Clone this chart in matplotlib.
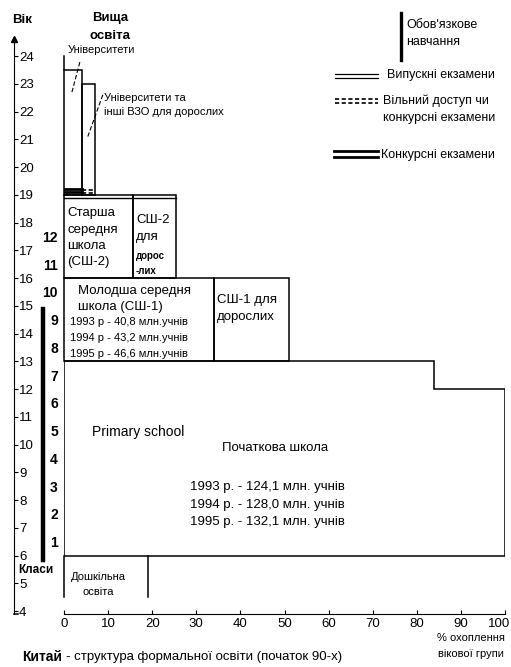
import numpy as np
import matplotlib.pyplot as plt
from matplotlib.patches import Polygon, Rectangle
from matplotlib.transforms import ScaledTranslation

plt.rcParams['font.family'] = ['Liberation Sans', 'DejaVu Sans']

# Age ticks and coverage ticks
ages = np.arange(4, 25)
coverage_ticks = np.arange(0, 101, 10)

# Blocks: (x0 %, x1 %, age0, age1)
preschool = (0, 19, 4.5, 6)
junior_sec = (0, 34, 13, 16)
junior_sec_adult = (34, 51, 13, 16)
senior_sec = (0, 15.6, 16, 19)
senior_sec_adult = (15.6, 25.4, 16, 19)
university = (0, 4.1, 19, 23.5)
university_adult = (4.1, 7.0, 19, 23)

# primary school outline: coverage drops after 84 %
primary_x = [0, 100, 100, 84, 84, 0]
primary_age = [6, 6, 12, 12, 13, 13]

grades = np.arange(1, 13)

junior_pupils = ['1993 р - 40,8 млн.учнів',
                 '1994 р - 43,2 млн.учнів',
                 '1995 р - 46,6 млн.учнів']
primary_pupils = ['1993 р. - 124,1 млн. учнів',
                  '1994 р. - 128,0 млн. учнів',
                  '1995 р. - 132,1 млн. учнів']

fig = plt.figure(figsize=(5.11, 6.67), dpi=100)
ax = fig.add_axes([64 / 511, (667 - 614) / 667, 441 / 511, 558 / 667])
ax.set_xlim(0, 100)
ax.set_ylim(3.9, 24)

lw = 1.1
kw = dict(color='black', lw=lw, clip_on=False)

# axes styling
for s in ['top', 'right']:
    ax.spines[s].set_visible(False)
ax.spines['left'].set_position(('data', -11.3))
ax.spines['left'].set_bounds(3.9, 24.5)
ax.spines['bottom'].set_bounds(0, 100)
ax.set_yticks(ages)
ax.set_xticks(coverage_ticks)
ax.tick_params(axis='y', direction='in', length=3, pad=-3.5, labelsize=9.5)
ax.tick_params(axis='x', direction='in', length=3, pad=3, labelsize=9.5)
for lbl in ax.get_yticklabels():
    lbl.set_ha('left')
last = ax.get_xticklabels()[-1]
last.set_transform(last.get_transform()
                   + ScaledTranslation(-4 / 72, 0, fig.dpi_scale_trans))
ax.plot([-11.3], [24.6], marker='^', color='black', ms=5, clip_on=False)
ax.plot([-11.3, -10.5], [3.9, 3.9], **kw)

# primary school
ax.add_patch(Polygon(list(zip(primary_x, primary_age)), closed=True,
                     fill=False, ec='black', lw=lw))

def box(b):
    x0, x1, a0, a1 = b
    ax.add_patch(Rectangle((x0, a0), x1 - x0, a1 - a0, fill=False,
                           ec='black', lw=lw, clip_on=False))

for b in [junior_sec, junior_sec_adult, senior_sec, senior_sec_adult,
          university, university_adult]:
    box(b)

# preschool: only side edges
ax.plot([preschool[0]] * 2, [preschool[2], preschool[3]], **kw)
ax.plot([preschool[1]] * 2, [preschool[2], preschool[3]], **kw)

# university left edge reaching age 24
ax.plot([0, 0], [23.5, 24], **kw)

# graduation exams on top of СШ-2
ax.plot([0, senior_sec_adult[1]], [18.87, 18.87], color='black', lw=1)
# competitive exams / free access into higher education
for a in [19.1, 19.22]:
    ax.plot([0, university[1]], [a, a], color='black', lw=2)
for a in [19.05, 19.17]:
    ax.plot([university_adult[0], university_adult[1]], [a, a],
            color='black', lw=1.2, ls=(0, (2.5, 1.5)))

# compulsory education bar
ax.plot([-4.8, -4.8], [5.85, 14.9], color='black', lw=3.2, clip_on=False)
for g in grades:
    ax.text(-1.4, g + 5.45, str(g), ha='right', va='center', fontsize=10,
            fontweight='bold', clip_on=False)
ax.text(-6.3, 5.48, 'Класи', ha='center', va='center', fontsize=8.5,
        fontweight='bold')

# labels
ax.text(-9.5, 25.3, 'Вік', ha='center', va='center', fontsize=9.5,
        fontweight='bold')
ax.text(10.4, 25.05, 'Вища\nосвіта', ha='center', va='center', fontsize=9.5,
        fontweight='bold', linespacing=1.7)
ax.text(0.9, 24.2, 'Університети', ha='left', va='center', fontsize=8)
ax.plot([3.6, 1.8], [23.78, 22.7], color='black', lw=0.8, ls=(0, (4, 2)))
ax.text(9.1, 22.22, 'Університети та\nінші ВЗО для дорослих', ha='left',
        va='center', fontsize=8, linespacing=1.5)
ax.plot([8.8, 5.4], [22.6, 21.1], color='black', lw=0.8, ls=(0, (4, 2)))

ax.text(0.7, 17.46, 'Старша\nсередня\nшкола\n(СШ-2)', ha='left',
        va='center', fontsize=9.5, linespacing=1.45)
ax.text(16.3, 17.78, 'СШ-2\nдля', ha='left', va='center', fontsize=9.5,
        linespacing=1.5)
ax.text(16.3, 16.52, 'дорос\n-лих', ha='left', va='center', fontsize=7,
        fontweight='bold', linespacing=1.7)

ax.text(3.2, 15.25, 'Молодша середня\nшкола (СШ-1)', ha='left', va='center',
        fontsize=9.5, linespacing=1.5)
for i, t in enumerate(junior_pupils):
    ax.text(1.4, 14.42 - i * 0.575, t, ha='left', va='center', fontsize=8)
ax.text(34.7, 14.9, 'СШ-1 для\nдорослих', ha='left', va='center',
        fontsize=9.5, linespacing=1.5)

ax.text(6.3, 10.46, 'Primary school', ha='left', va='center', fontsize=10)
ax.text(35.8, 9.88, 'Початкова школа', ha='left', va='center', fontsize=9.5)
for i, t in enumerate(primary_pupils):
    ax.text(28.6, 8.47 - i * 0.63, t, ha='left', va='center', fontsize=9.5)

ax.text(7.7, 4.97, 'Дошкільна\nосвіта', ha='center', va='center',
        fontsize=8, linespacing=1.6)

# legend
ax.plot([76.4, 76.4], [23.86, 25.55], color='black', lw=2.4, clip_on=False)
ax.text(77.6, 24.8, "Обов'язкове\nнавчання", ha='left', va='center',
        fontsize=9, linespacing=1.55)
for a in [23.35, 23.2]:
    ax.plot([61.5, 71.2], [a, a], color='black', lw=0.9)
ax.text(73.2, 23.3, 'Випускні екзамени', ha='left', va='center', fontsize=9)
for a in [22.45, 22.3]:
    ax.plot([61.5, 71.2], [a, a], color='black', lw=1.2, ls=(0, (2.5, 1.5)))
ax.text(72.3, 22.08, 'Вільний доступ чи\nконкурсні екзамени', ha='left',
        va='center', fontsize=9, linespacing=1.5)
for a in [20.58, 20.36]:
    ax.plot([61.2, 71.2], [a, a], color='black', lw=2)
ax.text(71.9, 20.45, 'Конкурсні екзамени', ha='left', va='center', fontsize=9)

# axis title and caption
ax.text(92.3, 2.74, '% охоплення\nвікової групи', ha='center', va='center',
        fontsize=8, linespacing=1.75, clip_on=False)
ax.text(-9.5, 2.35, 'Китай', ha='left', va='center', fontsize=10,
        fontweight='bold', clip_on=False)
ax.text(0.4, 2.35, '- структура формальної освіти (початок 90-х)', ha='left',
        va='center', fontsize=9.5, clip_on=False)

fig.savefig('out.png', dpi=100)
